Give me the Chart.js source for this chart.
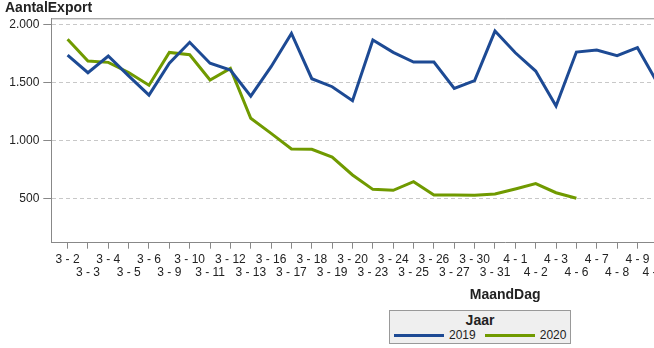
<!DOCTYPE html>
<html>
<head>
<meta charset="utf-8">
<script src="https://cdn.jsdelivr.net/npm/chart.js@4"></script>
<style>
  body { margin: 0; background: #fff; font-family: 'Liberation Sans', Arial, sans-serif; }
  #wrap { position: relative; width: 654px; height: 348px; overflow: hidden; }
  #legend {
    position: absolute; left: 389px; top: 310px; width: 180px; height: 32px;
    background: #efefef; border: 1px solid #999; color: #222;
  }
  #legend .title { text-align: center; font-weight: bold; font-size: 14px; line-height: 16px; margin-top: 1px; }
  #legend .items { display: flex; align-items: center; margin-left: 4px; font-size: 12px; line-height: 14px; }
  #legend .swatch { display: inline-block; width: 50px; height: 3px; margin-right: 5px; }
  #legend .item { display: flex; align-items: center; margin-right: 9px; }
</style>
</head>
<body>
<div id="wrap">
  <canvas id="exportChart" width="959" height="348"></canvas>
  <div id="legend"></div>
</div>
<script>
// Data
const dagen = ['3 - 2', '3 - 3', '3 - 4', '3 - 5', '3 - 6', '3 - 9', '3 - 10', '3 - 11', '3 - 12', '3 - 13',
    '3 - 16', '3 - 17', '3 - 18', '3 - 19', '3 - 20', '3 - 23', '3 - 24', '3 - 25', '3 - 26', '3 - 27',
    '3 - 30', '3 - 31', '4 - 1', '4 - 2', '4 - 3', '4 - 6', '4 - 7', '4 - 8', '4 - 9', '4 - 10'];
const export2019 = [1735, 1583, 1727, 1555, 1390, 1664, 1845, 1664, 1605, 1381,
    1635, 1922, 1531, 1462, 1341, 1865, 1758, 1675, 1675, 1448,
    1514, 1942, 1755, 1597, 1296, 1761, 1779, 1730, 1799, 1490];
const export2020 = [1871, 1684, 1672, 1585, 1475, 1758, 1738, 1520, 1620, 1190,
    1060, 925, 922, 855, 701, 577, 569, 643, 528, 528,
    527, 537, 580, 626, 548, 500];
const jaren = ['2019', '2020'];
const yTicks = [500, 1000, 1500, 2000];

const textColor = '#222';
const axisColor = '#888';
const fontFamily = "'Liberation Sans', Arial, sans-serif";

function toPoints(values) {
    return values.map((v, i) => ({ x: i, y: v }));
}

// top frame line
const frameTop = {
    id: 'frameTop',
    afterDraw(chart) {
        const { ctx, chartArea } = chart;
        ctx.save();
        ctx.strokeStyle = axisColor;
        ctx.lineWidth = 1;
        ctx.beginPath();
        ctx.moveTo(chartArea.left, chartArea.top + 0.5);
        ctx.lineTo(chartArea.right, chartArea.top + 0.5);
        ctx.stroke();
        ctx.restore();
    }
};

const ctx = document.getElementById('exportChart').getContext('2d');
const exportChart = new Chart(ctx, {
    type: 'line',
    data: {
        datasets: [{
            label: jaren[0],
            data: toPoints(export2019),
            borderColor: '#1d4a94',
            borderWidth: 3,
            pointRadius: 0,
            tension: 0
        }, {
            label: jaren[1],
            data: toPoints(export2020),
            borderColor: '#709a00',
            borderWidth: 3,
            pointRadius: 0,
            tension: 0
        }]
    },
    options: {
        responsive: false,
        animation: false,
        layout: { padding: { left: 5, top: 0, right: 0, bottom: 0 } },
        scales: {
            x: {
                type: 'linear',
                min: -0.8,
                max: 43.8,
                afterFit: (scale) => { scale.height = 105.3; },
                border: { color: axisColor, width: 1 },
                grid: { drawOnChartArea: false, tickLength: 6, tickColor: axisColor, color: axisColor },
                ticks: {
                    stepSize: 1,
                    autoSkip: false,
                    maxRotation: 0,
                    minRotation: 0,
                    includeBounds: false,
                    maxTicksLimit: 200,
                    padding: 4.5,
                    color: textColor,
                    font: { family: fontFamily, size: 12, lineHeight: 1.1 },
                    callback: (value) => {
                        const label = dagen[value];
                        if (label === undefined) return '';
                        return value % 2 === 0 ? [label, ''] : ['', label];
                    }
                },
                title: {
                    display: true,
                    text: 'MaandDag',
                    color: textColor,
                    font: { family: fontFamily, size: 14, weight: 'bold', lineHeight: 1.2 },
                    padding: { top: 0, bottom: 44.6 }
                }
            },
            y: {
                min: 117,
                max: 2052,
                afterFit: (scale) => { scale.width = 46.3; },
                afterBuildTicks: (scale) => { scale.ticks = yTicks.map(v => ({ value: v })); },
                border: { color: axisColor, width: 1, dash: [4, 3] },
                grid: { color: '#c8c8c8', tickColor: axisColor, tickLength: 8, tickBorderDash: [] },
                ticks: {
                    padding: 4,
                    color: textColor,
                    font: { family: fontFamily, size: 12 },
                    callback: (value) => String(value).replace(/\B(?=(\d{3})+(?!\d))/g, '.')
                }
            }
        },
        plugins: {
            legend: { display: false },
            tooltip: { enabled: false },
            title: {
                display: true,
                text: 'AantalExport',
                align: 'start',
                color: textColor,
                font: { family: fontFamily, size: 14, weight: 'bold', lineHeight: 1.2 },
                padding: { top: 0, bottom: 1.5 }
            }
        }
    },
    plugins: [frameTop]
});

// Legend
const legend = document.getElementById('legend');
let html = '<div class="title">Jaar</div><div class="items">';
exportChart.data.datasets.forEach((ds) => {
    html += '<span class="item"><span class="swatch" style="background:' + ds.borderColor + '"></span>' + ds.label + '</span>';
});
html += '</div>';
legend.innerHTML = html;
</script>
</body>
</html>
